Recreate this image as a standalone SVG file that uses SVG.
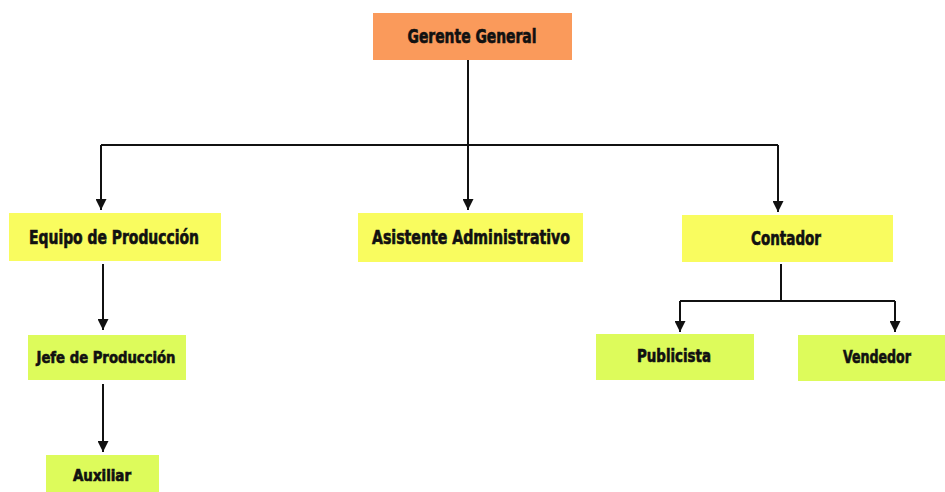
<svg xmlns="http://www.w3.org/2000/svg" width="945" height="492" viewBox="0 0 945 492">
<defs>
<marker id="ah" viewBox="0 0 10 10" refX="10" refY="5" markerWidth="5.5" markerHeight="5.5" markerUnits="strokeWidth" orient="auto">
<path d="M0,0 L10,5 L0,10 Z" fill="#111"/>
</marker>
<style>
.lbl{font-family:"DejaVu Sans","Liberation Sans",sans-serif;font-weight:bold;font-stretch:condensed;fill:#111;stroke:#111;stroke-width:0.6;text-anchor:middle;dominant-baseline:central}
.con{fill:none;stroke:#111;stroke-width:2}
.orange{fill:#FA9A5B}
.yellow{fill:#F9FC5F}
.green{fill:#DDFB5B}
</style>
</defs>
<rect width="945" height="492" fill="#fff"/>
<g id="connectors">
<path class="con" d="M468,60 V145"/>
<path class="con" d="M101,145 H778"/>
<path class="con" d="M101,145 V210" marker-end="url(#ah)"/>
<path class="con" d="M468,145 V210" marker-end="url(#ah)"/>
<path class="con" d="M778,145 V212" marker-end="url(#ah)"/>
<path class="con" d="M103,264 V330" marker-end="url(#ah)"/>
<path class="con" d="M103,384 V452" marker-end="url(#ah)"/>
<path class="con" d="M781,264 V301"/>
<path class="con" d="M680,301 H895"/>
<path class="con" d="M680,301 V332" marker-end="url(#ah)"/>
<path class="con" d="M895,301 V332" marker-end="url(#ah)"/>
</g>
<g id="gerente">
<rect class="orange" x="373" y="13" width="199" height="47"/>
<text class="lbl" x="472" y="36" font-size="19" textLength="129" lengthAdjust="spacingAndGlyphs">Gerente General</text>
</g>
<g id="equipo">
<rect class="yellow" x="9" y="213" width="212" height="48"/>
<text class="lbl" x="114" y="237" font-size="19" textLength="170" lengthAdjust="spacingAndGlyphs">Equipo de Producción</text>
</g>
<g id="asistente">
<rect class="yellow" x="358" y="213" width="225" height="49"/>
<text class="lbl" x="471" y="237" font-size="19" textLength="198" lengthAdjust="spacingAndGlyphs">Asistente Administrativo</text>
</g>
<g id="contador">
<rect class="yellow" x="682" y="215" width="211" height="47"/>
<text class="lbl" x="786" y="238" font-size="19" textLength="70" lengthAdjust="spacingAndGlyphs">Contador</text>
</g>
<g id="jefe">
<rect class="green" x="28" y="335" width="158" height="45"/>
<text class="lbl" x="106" y="357" font-size="16.5" textLength="139" lengthAdjust="spacingAndGlyphs">Jefe de Producción</text>
</g>
<g id="auxiliar">
<rect class="green" x="46" y="455" width="113" height="37"/>
<text class="lbl" x="102" y="476" font-size="15" textLength="58" lengthAdjust="spacingAndGlyphs">Auxiliar</text>
</g>
<g id="publicista">
<rect class="green" x="596" y="334" width="158" height="46"/>
<text class="lbl" x="674" y="356" font-size="17.5" textLength="74" lengthAdjust="spacingAndGlyphs">Publicista</text>
</g>
<g id="vendedor">
<rect class="green" x="798" y="335" width="147" height="46"/>
<text class="lbl" x="877" y="357" font-size="17.5" textLength="68" lengthAdjust="spacingAndGlyphs">Vendedor</text>
</g>
</svg>
